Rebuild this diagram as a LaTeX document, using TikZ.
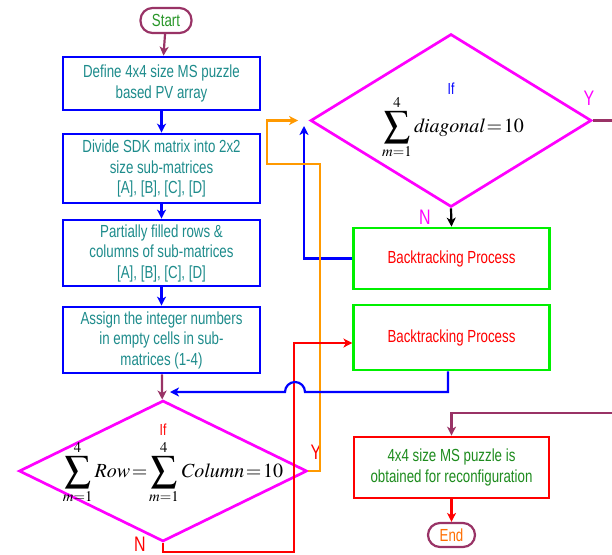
\documentclass[tikz,border=0pt]{standalone}
\usepackage{graphicx}
\usepackage{mathptmx}
\usepackage[no-math]{fontspec}
\setmainfont{Liberation Sans}[FakeStretch=0.76]
\usetikzlibrary{arrows.meta,shapes.geometric}
\definecolor{cBlue}{RGB}{0,0,255}
\definecolor{cTeal}{RGB}{30,140,140}
\definecolor{cMag}{RGB}{255,0,255}
\definecolor{cGreen}{RGB}{0,240,0}
\definecolor{cRed}{RGB}{255,0,0}
\definecolor{cOrange}{RGB}{255,153,0}
\definecolor{cPurple}{RGB}{153,51,102}
\definecolor{cDkGreen}{RGB}{30,140,30}
\definecolor{cStartGreen}{RGB}{40,150,40}
\definecolor{cEndOr}{RGB}{255,110,0}
\newcommand{\tightmath}{\thickmuskip=1.5mu plus 1mu\relax\medmuskip=1mu\relax}
\newcommand{\bigsumop}{\mathop{\vcenter{\hbox{\scalebox{1.3}{$\displaystyle\sum$}}}}\limits}
\tikzset{
  txt/.style={font=\fontsize{17.5}{20.5}\selectfont},
  procbox/.style={txt, draw=cBlue, line width=2.7pt, text=cTeal, align=center, minimum width=197pt, inner sep=0pt},
  btbox/.style={txt, draw=cGreen, line width=2.7pt, text=cRed, align=center, minimum width=195.5pt, inner sep=0pt},
  resbox/.style={txt, draw=cRed, line width=2.7pt, text=cDkGreen, align=center, minimum width=195pt, inner sep=0pt},
  term/.style={txt, draw=cPurple, line width=2.2pt, rounded corners=12pt, inner sep=0pt},
  dec/.style={diamond, draw=cMag, line width=2.7pt, inner sep=0pt},
  arr/.style={-{Stealth[length=9pt,width=9pt,inset=2.5pt]}, line width=2.2pt},
  lab/.style={font=\fontsize{21}{23}\selectfont, inner sep=0pt},
  iflab/.style={font=\fontsize{16}{18}\selectfont, inner sep=0pt},
  formula/.style={font=\fontsize{20}{24}\selectfont, inner sep=0pt},
}
\begin{document}
\begin{tikzpicture}[x=1pt,y=-1pt]
\useasboundingbox[fill=white] (0,0) rectangle (612,554);
% left column
\node[term, text=cStartGreen, minimum width=51pt, minimum height=25pt] (start) at (166,20.5) {Start};
\node[procbox, minimum height=53pt] (b1) at (161.5,83.5) {Define 4x4 size MS puzzle\\based PV array};
\node[procbox, minimum height=69pt] (b2) at (161.5,168.5) {Divide SDK matrix into 2x2\\size sub-matrices\\{[A], [B], [C], [D]}};
\node[procbox, minimum height=66pt] (b3) at (161.5,253) {Partially filled rows \&\\columns of sub-matrices\\{[A], [B], [C], [D]}};
\node[procbox, minimum height=66pt] (b4) at (161.5,340) {Assign the integer numbers\\in empty cells in sub-\\matrices (1-4)};
\node[dec, minimum width=288pt, minimum height=141pt] (d1) at (163,471) {};
\node[iflab, text=cRed] (if1) at (163,430) {If};
\node[formula] (f1) at (173,472) {$\tightmath\displaystyle\bigsumop_{m=1}^{4}\mathit{Row}=\bigsumop_{m=1}^{4}\mathit{Column}=10$};
\node[lab, text=cRed] (y1) at (316,452) {Y};
\node[lab, text=cRed] (n1) at (140,544) {N};
% right column
\node[dec, minimum width=281pt, minimum height=173pt] (d2) at (451,120.5) {};
\node[iflab, text=cBlue] (if2) at (451,89) {If};
\node[formula] (f2) at (453,127) {$\tightmath\displaystyle\bigsumop_{m=1}^{4}\mathit{diagonal}=10$};
\node[lab, text=cMag] (y2) at (589,98) {Y};
\node[lab, text=cMag] (n2) at (425,217) {N};
\node[btbox, minimum height=61pt] (bt1) at (451.5,258.5) {Backtracking Process};
\node[btbox, minimum height=65pt] (bt2) at (451.5,337.5) {Backtracking Process};
\node[resbox, minimum height=61pt] (b5) at (451.5,467.5) {4x4 size MS puzzle is\\obtained for reconfiguration};
\node[term, text=cEndOr, minimum width=47pt, minimum height=24pt] (end) at (451.5,535) {End};
% helper coordinates
\coordinate (bluetip) at (304,126);
\coordinate (bluebot) at (170,392);
\coordinate (rin) at ([yshift=-5.5pt]bt2.west);
% connectors
\draw[arr, cPurple] (start) -- (b1);
\draw[arr, cBlue] (b1) -- (b2);
\draw[arr, cBlue] (b2) -- (b3);
\draw[arr, cBlue] (b3) -- (b4);
\draw[arr, cPurple] (b4) -- (d1);
\draw[arr, black] (d2.south) -- (bt1.north);
\draw[arr, cBlue] (bt1.west) -| (bluetip);
\draw[arr, cOrange, shorten >=11pt] (d1.east) -| (320,164) -| (267,120.5) -- (d2.west);
\draw[arr, cRed] (d1.south) |- (294,552) |- (rin);
\draw[arr, cBlue] ([xshift=-3.5pt]bt2.south) -- (448,392) -- (305,392) arc[start angle=0, end angle=180, radius=10pt] -- (bluebot);
\draw[arr, cPurple] (d2.east) -- (640,120.5) -- (640,413) -| (b5.north);
\draw[arr, cRed] (b5) -- (end);
\end{tikzpicture}
\end{document}
